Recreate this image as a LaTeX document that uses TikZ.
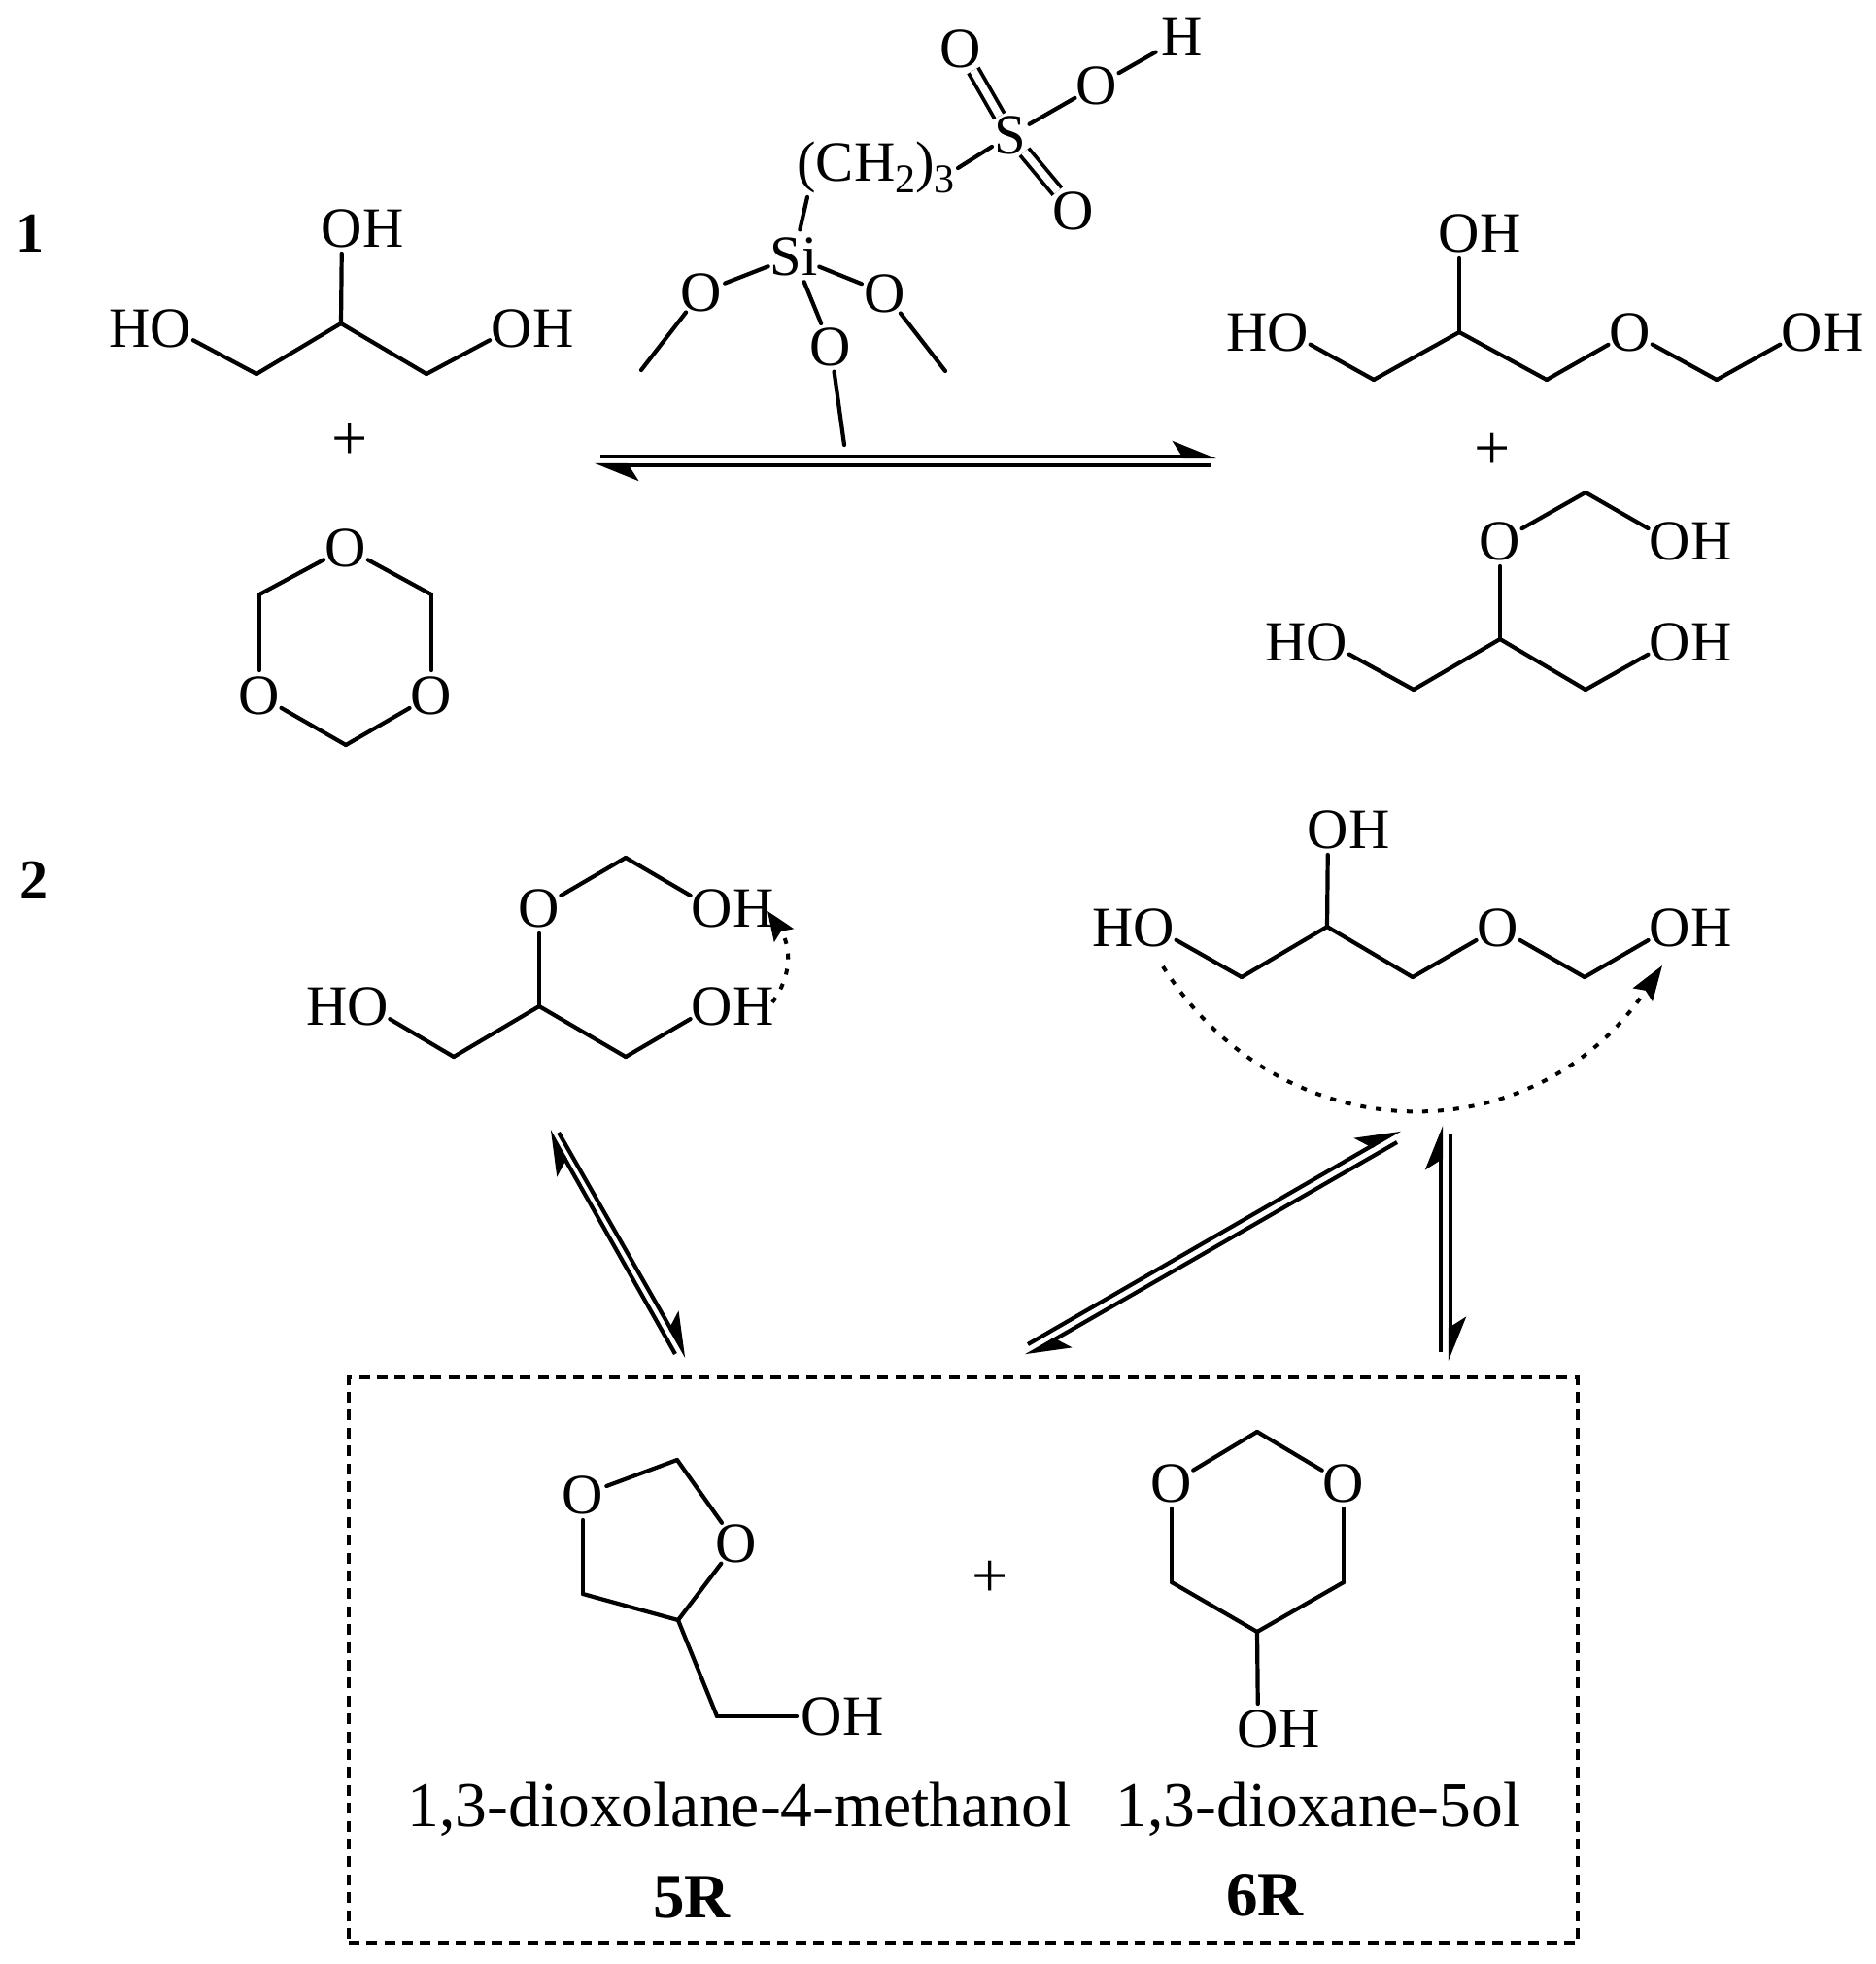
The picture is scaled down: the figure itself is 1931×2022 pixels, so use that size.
\documentclass[tikz,border=0pt]{standalone}
\usepackage{fontspec}
\setmainfont{Liberation Serif}
\usetikzlibrary{arrows.meta}
\newcommand{\sbs}[1]{\raisebox{-0.2em}{\fontsize{21pt}{21pt}\selectfont #1}}
\tikzset{
  atom/.style={circle,inner sep=-1.2pt,font=\fontsize{29.3pt}{31pt}\selectfont},
  plus/.style={inner sep=0pt,font=\fontsize{33pt}{34pt}\selectfont},
  lbl/.style={inner sep=0pt,font=\fontsize{32.8pt}{36pt}\selectfont},
  num/.style={inner sep=0pt,font=\fontsize{29pt}{32pt}\selectfont\bfseries},
  cname/.style={inner sep=0pt,font=\fontsize{32.5pt}{36pt}\selectfont\bfseries},
  bond/.style={line width=2.1pt,line cap=round},
  dbond/.style={line width=1.9pt,double,double distance=3.8pt},
  eqfwd/.style={line width=2.1pt,-{Stealth[harpoon,length=20pt,width=16pt,inset=5pt]}},
  dots/.style={line width=2pt,dash pattern=on 3pt off 5pt},
  boxline/.style={line width=1.8pt,dash pattern=on 5.5pt off 3.7pt}
}
\begin{document}
\begin{tikzpicture}[x=0.5pt,y=-0.5pt]
\useasboundingbox (0,0) rectangle (1931,2022);
\fill[white] (0,0) rectangle (1931,2022);

% step labels
\node[num] (n1) at (31,240) {1};
\node[num] (n2) at (35,906) {2};

% catalyst
\node[atom] (cH) at (1217,38) {H};
\node[atom] (cO1) at (1129,88) {O};
\node[atom] (cO2) at (989,50) {O};
\node[atom] (cS) at (1040,139) {S};
\node[atom] (cO3) at (1105,217) {O};
\node[atom,anchor=base west,inner sep=0pt,rectangle] (cCH) at (820,187) {(CH\sbs{2})\sbs{3}};
\node[atom] (cSi) at (817,264) {Si};
\node[atom] (cO4) at (722,301) {O};
\node[atom] (cO5) at (911,302) {O};
\node[atom] (cO6) at (855,357) {O};
\coordinate (cCHr) at (986,173);
\coordinate (cCHl) at (831,203);
\coordinate (cM1) at (660,381);
\coordinate (cM2) at (973,382);
\coordinate (cM3) at (869,458);
\draw[bond,shorten >=3pt] (cO1) -- (cH);
\draw[bond] (cS) -- (cO1);
\draw[dbond] (cS) -- (cO2);
\draw[dbond] (cS) -- (cO3);
\draw[bond] (cCHr) -- (cS);
\draw[bond] (cCHl) -- (cSi);
\draw[bond] (cSi) -- (cO4);
\draw[bond] (cSi) -- (cO5);
\draw[bond] (cSi) -- (cO6);
\draw[bond] (cO4) -- (cM1);
\draw[bond] (cO5) -- (cM2);
\draw[bond] (cO6) -- (cM3);

% glycerol, top left
\node[atom] (gA) at (176,338) {\llap{H}O};
\node[atom] (gB) at (352,235) {O\rlap{H}};
\node[atom] (gC) at (527,338) {O\rlap{H}};
\coordinate (g1) at (264,385);
\coordinate (g2) at (351,333);
\coordinate (g3) at (439,385);
\draw[bond] (gA) -- (g1);
\draw[bond] (g1) -- (g2);
\draw[bond] (g2) -- (g3);
\draw[bond] (g3) -- (gC);
\draw[bond] (g2) -- (gB);
\node[plus] (p1) at (360,455) {+};

% trioxane
\node[atom] (tA) at (356,564) {O};
\node[atom] (tB) at (267,716) {O};
\node[atom] (tC) at (444,716) {O};
\coordinate (t1) at (267,612);
\coordinate (t2) at (444,612);
\coordinate (t3) at (356,767);
\draw[bond] (tA) -- (t1);
\draw[bond] (t1) -- (tB);
\draw[bond] (tB) -- (t3);
\draw[bond] (t3) -- (tC);
\draw[bond] (tC) -- (t2);
\draw[bond] (t2) -- (tA);

% top equilibrium
\coordinate (e1a) at (618,470);
\coordinate (e1b) at (1252,470);
\coordinate (e2a) at (1246,479);
\coordinate (e2b) at (612,479);
\draw[eqfwd] (e1a) -- (e1b);
\draw[eqfwd] (e2a) -- (e2b);

% product 1, top right
\node[atom] (hA) at (1326,342) {\llap{H}O};
\node[atom] (hB) at (1502,240) {O\rlap{H}};
\node[atom] (hC) at (1678,342) {O};
\node[atom] (hD) at (1855,342) {O\rlap{H}};
\coordinate (h1) at (1414,391);
\coordinate (h2) at (1502,342);
\coordinate (h3) at (1592,391);
\coordinate (h4) at (1767,391);
\draw[bond] (hA) -- (h1);
\draw[bond] (h1) -- (h2);
\draw[bond] (h2) -- (h3);
\draw[bond] (h3) -- (hC);
\draw[bond] (hC) -- (h4);
\draw[bond] (h4) -- (hD);
\draw[bond] (h2) -- (hB);
\node[plus] (p2) at (1536,465) {+};

% product 2
\node[atom] (iA) at (1366,661) {\llap{H}O};
\node[atom] (iB) at (1544,557) {O};
\node[atom] (iC) at (1719,557) {O\rlap{H}};
\node[atom] (iD) at (1719,661) {O\rlap{H}};
\coordinate (i1) at (1455,710);
\coordinate (i2) at (1544,658);
\coordinate (i3) at (1632,710);
\coordinate (i4) at (1632,507);
\draw[bond] (iA) -- (i1);
\draw[bond] (i1) -- (i2);
\draw[bond] (i2) -- (i3);
\draw[bond] (i3) -- (iD);
\draw[bond] (i2) -- (iB);
\draw[bond] (iB) -- (i4);
\draw[bond] (i4) -- (iC);

% section 2, left molecule
\node[atom] (jA) at (379,1036) {\llap{H}O};
\node[atom] (jB) at (555,935) {O};
\node[atom] (jC) at (733,935) {O\rlap{H}};
\node[atom] (jD) at (733,1036) {O\rlap{H}};
\coordinate (j1) at (467,1088);
\coordinate (j2) at (555,1036);
\coordinate (j3) at (644,1088);
\coordinate (j4) at (644,883);
\draw[bond] (jA) -- (j1);
\draw[bond] (j1) -- (j2);
\draw[bond] (j2) -- (j3);
\draw[bond] (j3) -- (jD);
\draw[bond] (j2) -- (jB);
\draw[bond] (jB) -- (j4);
\draw[bond] (j4) -- (jC);
\coordinate (ja) at (795,1032);
\coordinate (jb) at (790,938);
\draw[dots,-{Stealth[length=15pt,width=12pt,inset=2.5pt]}] (ja) .. controls (815,1005) and (815,975) .. (jb);

% section 2, right molecule
\node[atom] (kA) at (1188,955) {\llap{H}O};
\node[atom] (kB) at (1367,854) {O\rlap{H}};
\node[atom] (kC) at (1542,955) {O};
\node[atom] (kD) at (1719,955) {O\rlap{H}};
\coordinate (k1) at (1278,1006);
\coordinate (k2) at (1366,954);
\coordinate (k3) at (1454,1006);
\coordinate (k4) at (1631,1006);
\draw[bond] (kA) -- (k1);
\draw[bond] (k1) -- (k2);
\draw[bond] (k2) -- (k3);
\draw[bond] (k3) -- (kC);
\draw[bond] (kC) -- (k4);
\draw[bond] (k4) -- (kD);
\draw[bond] (k2) -- (kB);
\coordinate (ka) at (1197,995);
\coordinate (kb) at (1711,994);
\draw[dots,-{Stealth[length=18pt,width=12pt,inset=2.5pt]}] (ka) .. controls (1320,1190) and (1580,1190) .. (kb);

% equilibria, section 2
\coordinate (l1a) at (695,1394);
\coordinate (l1b) at (565,1164);
\coordinate (l2a) at (575,1166);
\coordinate (l2b) at (707,1397);
\draw[eqfwd] (l1a) -- (l1b);
\draw[eqfwd] (l2a) -- (l2b);
\coordinate (m1a) at (1058,1384);
\coordinate (m1b) at (1441,1163);
\coordinate (m2a) at (1438,1176);
\coordinate (m2b) at (1056,1396);
\draw[eqfwd] (m1a) -- (m1b);
\draw[eqfwd] (m2a) -- (m2b);
\coordinate (v1a) at (1483,1392);
\coordinate (v1b) at (1483,1159);
\coordinate (v2a) at (1493,1168);
\coordinate (v2b) at (1493,1401);
\draw[eqfwd] (v1a) -- (v1b);
\draw[eqfwd] (v2a) -- (v2b);

% dashed box
\node[draw,boxline,inner sep=0pt,minimum width=1265.5*0.5pt,minimum height=582*0.5pt] (box) at (991.5,1709) {};

% dioxolane
\node[atom] (oA) at (600,1539) {O};
\node[atom] (oB) at (758,1589) {O};
\node[atom] (oC) at (846,1767) {O\rlap{H}};
\coordinate (o1) at (697,1503);
\coordinate (o2) at (600,1641);
\coordinate (o3) at (698,1668);
\coordinate (o4) at (738,1767);
\draw[bond] (oA) -- (o1);
\draw[bond] (o1) -- (oB);
\draw[bond] (oB) -- (o3);
\draw[bond] (o3) -- (o2);
\draw[bond] (o2) -- (oA);
\draw[bond] (o3) -- (o4);
\draw[bond] (o4) -- (oC);
\node[plus] (p3) at (1019,1626) {+};

% dioxane
\node[atom] (qA) at (1206,1527) {O};
\node[atom] (qB) at (1383,1527) {O};
\node[atom] (qC) at (1295,1780) {O\rlap{H}};
\coordinate (q1) at (1294,1474);
\coordinate (q2) at (1206,1629);
\coordinate (q3) at (1383,1629);
\coordinate (q4) at (1294,1680);
\draw[bond] (qA) -- (q1);
\draw[bond] (q1) -- (qB);
\draw[bond] (qB) -- (q3);
\draw[bond] (q3) -- (q4);
\draw[bond] (q4) -- (q2);
\draw[bond] (q2) -- (qA);
\draw[bond] (q4) -- (qC);

% names
\node[lbl] (t5) at (761,1863) {1,3-dioxolane-4-methanol};
\node[lbl] (t6) at (1357,1863) {1,3-dioxane-5ol};
\node[cname] (c5) at (712,1954) {5R};
\node[cname] (c6) at (1302,1951) {6R};
\end{tikzpicture}
\end{document}
